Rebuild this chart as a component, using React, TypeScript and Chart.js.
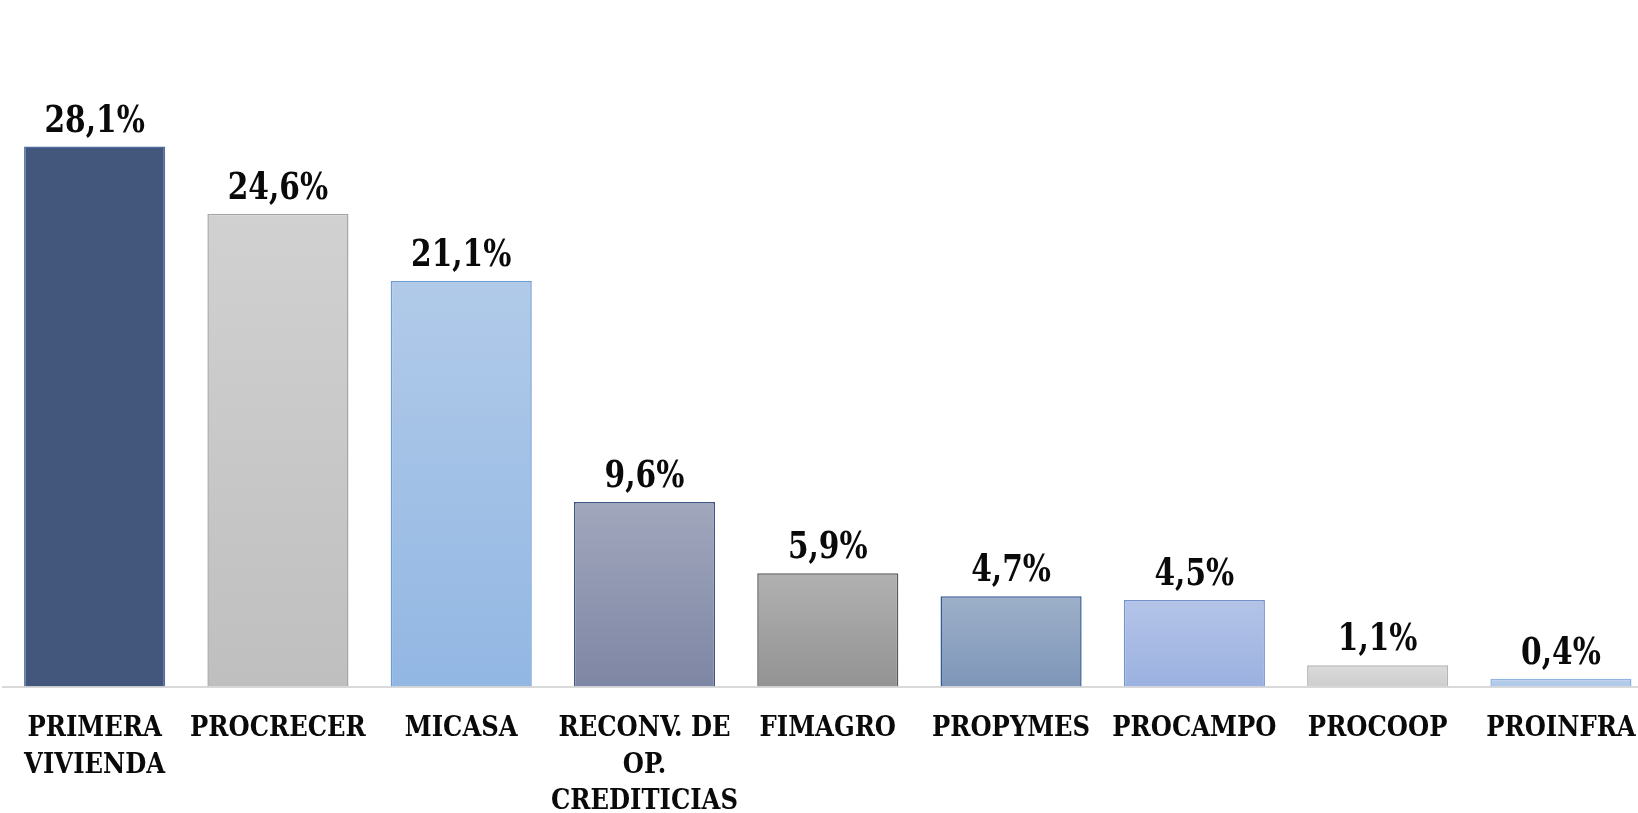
import React, { useEffect, useRef } from "react";
import { Chart, registerables } from "chart.js";

Chart.register(...registerables);

const categories: string[][] = [
  ["PRIMERA", "VIVIENDA"],
  ["PROCRECER"],
  ["MICASA"],
  ["RECONV. DE", "OP.", "CREDITICIAS"],
  ["FIMAGRO"],
  ["PROPYMES"],
  ["PROCAMPO"],
  ["PROCOOP"],
  ["PROINFRA"],
];
const values: number[] = [28.1, 24.6, 21.1, 9.6, 5.9, 4.7, 4.5, 1.1, 0.4];
const valueLabels: string[] = ["28,1%", "24,6%", "21,1%", "9,6%", "5,9%", "4,7%", "4,5%", "1,1%", "0,4%"];

const topColors = ["#43577d", "#d1d1d1", "#b1cae9", "#a1a7bc", "#b1b1b1", "#9eb0c9", "#b4c4e8", "#dbdbdb", "#b6cdea"];
const bottomColors = ["#43577d", "#bfbfbf", "#92b7e3", "#7e86a5", "#939393", "#7e96b9", "#9bb1e0", "#cdcdcd", "#b0c9ea"];
const borderColors = ["#4e6ba3", "#a6a6a6", "#6f9cd4", "#3f5582", "#5a5a5a", "#365a95", "#7492cc", "#b3b3b3", "#8fb4e2"];

const FONT = "'DejaVu Serif Condensed', 'DejaVu Serif', serif";

const valueLabelPlugin = {
  id: "valueLabels",
  afterDatasetsDraw(chart: any) {
    const ctx = chart.ctx;
    const meta = chart.getDatasetMeta(0);
    meta.data.forEach((el: any, i: number) => {
      ctx.save();
      ctx.font = `bold 32px ${FONT}`;
      ctx.fillStyle = "#0a0a0a";
      ctx.textAlign = "center";
      ctx.textBaseline = "alphabetic";
      ctx.translate(el.x, el.y - 15);
      ctx.scale(1.03, 1.18);
      ctx.fillText(valueLabels[i], 0, 0);
      ctx.restore();
    });
  },
};

export default function App() {
  const ref = useRef<HTMLCanvasElement | null>(null);

  useEffect(() => {
    if (!ref.current) return;
    const chart = new Chart(ref.current, {
      type: "bar",
      data: {
        labels: categories,
        datasets: [
          {
            data: values,
            backgroundColor: (c: any) => {
              const i = c.dataIndex;
              const chartObj = c.chart;
              const ys = chartObj.scales && chartObj.scales.y;
              if (!chartObj.chartArea || !ys || i === undefined) return topColors[i ?? 0];
              const top = ys.getPixelForValue(values[i]);
              const bottom = ys.getPixelForValue(0);
              const g = chartObj.ctx.createLinearGradient(0, top, 0, bottom);
              g.addColorStop(0, topColors[i]);
              g.addColorStop(1, bottomColors[i]);
              return g;
            },
            borderColor: borderColors,
            borderWidth: 1.5,
            categoryPercentage: 1,
            barPercentage: 0.77,
          },
        ],
      },
      options: {
        responsive: false,
        animation: false,
        layout: { padding: { left: 3, right: 6, top: 14, bottom: 0 } },
        plugins: { legend: { display: false }, tooltip: { enabled: false } },
        scales: {
          x: {
            grid: { display: false, drawTicks: false },
            border: { display: true, color: "#d9d9d9", width: 2 },
            ticks: {
              color: "#0a0a0a",
              font: { family: FONT, size: 27, weight: "bold", lineHeight: 1.36 },
              padding: 24,
              maxRotation: 0,
              minRotation: 0,
              autoSkip: false,
            },
            afterFit: (scale: any) => {
              scale.height = 126.5;
            },
          },
          y: {
            display: false,
            min: 0,
            max: 35,
          },
        },
      },
      plugins: [valueLabelPlugin],
    });
    return () => chart.destroy();
  }, []);

  return (
    <div style={{ position: "fixed", left: 0, top: 0, width: 1638, height: 813, overflow: "hidden", background: "#fff" }}>
      <canvas ref={ref} width={1660} height={813} style={{ display: "block" }} />
    </div>
  );
}
